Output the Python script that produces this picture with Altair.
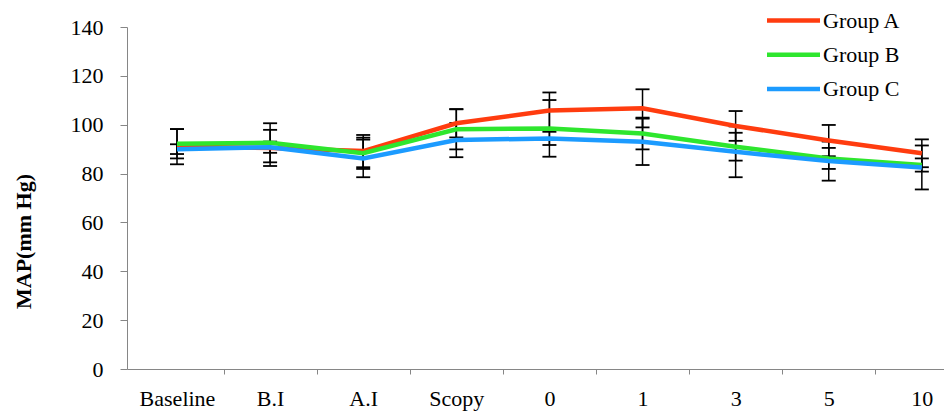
import altair as alt
import pandas as pd

# ---------------- data ----------------
categories = ["Baseline", "B.I", "A.I", "Scopy", "0", "1", "3", "5", "10"]
groups = ["Group A", "Group B", "Group C"]

group_a = [91.0, 90.5, 89.2, 100.6, 105.8, 106.7, 99.5, 93.5, 88.3]
group_b = [92.2, 92.6, 88.3, 98.1, 98.5, 96.4, 91.0, 86.2, 83.5]
group_c = [90.0, 90.8, 86.2, 93.7, 94.4, 93.0, 88.9, 85.1, 82.5]

sd_a = [7.2, 7.4, 6.6, 5.8, 7.4, 7.8, 6.1, 6.4, 5.7]
sd_b = [6.0, 8.0, 6.4, 8.2, 11.6, 6.5, 5.7, 4.3, 2.7]
sd_c = [2.0, 2.3, 7.7, 7.0, 2.7, 9.5, 10.4, 8.0, 9.0]

colors = ["#FF3C0F", "#2EE62E", "#1C9BFF"]
y_ticks = [0, 20, 40, 60, 80, 100, 120, 140]

# ---------------- tables ----------------
rows = []
for g, vals, sds in zip(groups, [group_a, group_b, group_c], [sd_a, sd_b, sd_c]):
    for i, (c, v, s) in enumerate(zip(categories, vals, sds)):
        rows.append({"group": g, "idx": i, "cat": c, "value": v,
                     "lo": v - s, "hi": v + s})
df = pd.DataFrame(rows)
legend_df = pd.DataFrame({"group": groups})

FONT = "Liberation Serif"
n = len(categories)
x_values = [i / 2 for i in range(0, 2 * n - 1)]  # centres and band edges
label_array = "[" + ",".join("'" + c + "'" for c in categories) + "]"

x_scale = alt.Scale(domain=[-0.537, 8.238], nice=False, zero=False)
y_scale = alt.Scale(domain=[0, 140], nice=False)
color_scale = alt.Scale(domain=groups, range=colors)

x_enc = alt.X(
    "idx:Q", scale=x_scale, title=None,
    axis=alt.Axis(
        values=x_values,
        labelExpr=f"datum.value % 1 === 0 ? {label_array}[datum.value] : ''",
        labelFont=FONT, labelFontSize=22, labelColor="black",
        labelPadding=14, labelFlush=False, labelOverlap=False,
        tickSize=5, tickColor="#868686",
        tickOpacity={"condition": {"test": "datum.value % 1 === 0", "value": 0}, "value": 1},
        domainColor="#868686", grid=False,
    ),
)

y_axis = alt.Axis(
    values=y_ticks, title="MAP(mm Hg)",
    titleFont=FONT, titleFontSize=22, titleFontWeight="bold", titleColor="black",
    titleAngle=270, titleX=-104, titleY=214, titleAlign="center", titleBaseline="middle",
    labelFont=FONT, labelFontSize=22, labelColor="black", labelPadding=17,
    tickSize=7, tickColor="#868686", domainColor="#868686", grid=False,
)

base = alt.Chart(df)

err = base.mark_rule(color="black", strokeWidth=1.5).encode(
    x=x_enc,
    y=alt.Y("lo:Q", scale=y_scale, axis=y_axis),
    y2="hi:Q",
)
cap_lo = base.mark_rule(color="black", strokeWidth=1.8, xOffset=-7, x2Offset=7).encode(
    x=alt.X("idx:Q", scale=x_scale), x2="idx:Q",
    y=alt.Y("lo:Q", scale=y_scale),
)
cap_hi = base.mark_rule(color="black", strokeWidth=1.8, xOffset=-7, x2Offset=7).encode(
    x=alt.X("idx:Q", scale=x_scale), x2="idx:Q",
    y=alt.Y("hi:Q", scale=y_scale),
)
lines = base.mark_line(strokeWidth=4.5).encode(
    x=alt.X("idx:Q", scale=x_scale),
    y=alt.Y("value:Q", scale=y_scale),
    color=alt.Color("group:N", scale=color_scale, legend=None),
    order="idx:Q",
)

main = alt.layer(err, cap_lo, cap_hi, lines)

leg_y = alt.Y("group:N", scale=alt.Scale(type="point", domain=groups, range=[-6.5, 62], padding=0), axis=None)
leg_lines = alt.Chart(legend_df).mark_rule(strokeWidth=4.5).encode(
    x=alt.value(640), x2=alt.value(693), y=leg_y,
    color=alt.Color("group:N", scale=color_scale, legend=None),
)
leg_text = alt.Chart(legend_df).mark_text(
    align="left", baseline="middle", font=FONT, fontSize=22, color="black"
).encode(x=alt.value(696), y=leg_y, text="group:N")

legend = alt.layer(leg_lines, leg_text)

chart = alt.layer(main, legend).resolve_scale(y="independent").properties(
    width=817, height=342,
    autosize=alt.AutoSizeParams(type="none"),
    padding={"left": 119, "top": 19, "right": 0, "bottom": 42},
    background="white",
).configure_view(stroke=None)

chart.save("out.html", embed_options={"renderer": "svg", "actions": False})
